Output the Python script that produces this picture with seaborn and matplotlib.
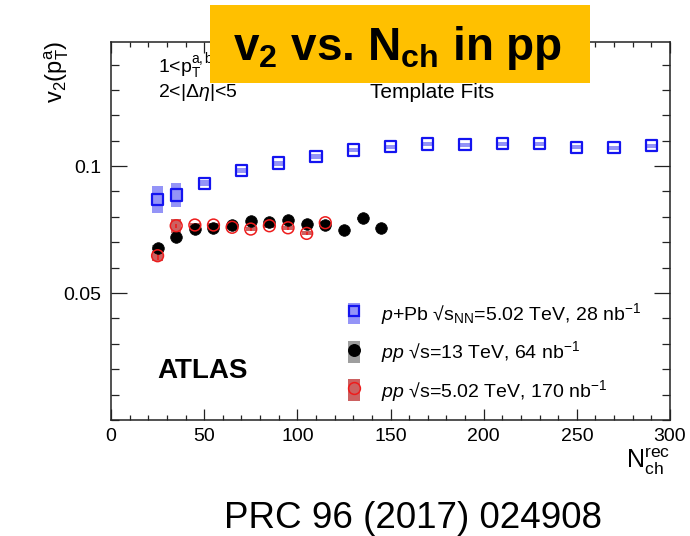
import numpy as np
import pandas as pd
import matplotlib
matplotlib.use("Agg")
import matplotlib.pyplot as plt
from matplotlib.patches import Rectangle, Patch
from matplotlib.lines import Line2D
from matplotlib.ticker import MultipleLocator, FixedLocator
import seaborn as sns

# ---------------- data ----------------
n_ppb = [25, 35, 50, 70, 90, 110, 130, 150, 170, 190, 210, 230, 250, 270, 290]
v2_ppb = [0.0869, 0.0886, 0.0932, 0.0983, 0.1012, 0.1038, 0.1063, 0.1076,
          0.1087, 0.1084, 0.1088, 0.1088, 0.1074, 0.1072, 0.1080]
sys_ppb = [0.0052, 0.0047, 0.0012, 0.0010, 0.0010, 0.0009, 0.0009, 0.0009,
           0.0008, 0.0008, 0.0008, 0.0008, 0.0008, 0.0008, 0.0008]

n_pp13 = [25, 35, 45, 55, 65, 75, 85, 95, 105, 115, 125, 135, 145]
v2_pp13 = [0.0678, 0.0722, 0.0752, 0.0755, 0.0768, 0.0783, 0.0778, 0.0787,
           0.0772, 0.0768, 0.0748, 0.0794, 0.0755]
stat_pp13 = [0.0012, 0.0008, 0.0006, 0.0005, 0.0005, 0.0005, 0.0005, 0.0005,
             0.0006, 0.0006, 0.0007, 0.0008, 0.0009]
sys_pp13 = [0.0010, 0.0008, 0.0006, 0.0006, 0.0006, 0.0006, 0.0006, 0.0006,
            0.0006, 0.0006, 0.0006, 0.0006, 0.0006]

n_pp5 = [25, 35, 45, 55, 65, 75, 85, 95, 105, 115]
v2_pp5 = [0.0647, 0.0765, 0.0768, 0.0768, 0.0759, 0.0752, 0.0765, 0.0757,
          0.0735, 0.0777]
stat_pp5 = [0.0018, 0.0008, 0.0006, 0.0006, 0.0006, 0.0006, 0.0006, 0.0007,
            0.0007, 0.0008]
sys_pp5 = [0.0020, 0.0028, 0.0008, 0.0008, 0.0008, 0.0008, 0.0008, 0.0008,
           0.0008, 0.0008]

labels = ["$p$+Pb \u221As$_{\\mathrm{NN}}$=5.02 TeV, 28 nb$^{-1}$",
          "$pp$ \u221As=13 TeV, 64 nb$^{-1}$",
          "$pp$ \u221As=5.02 TeV, 170 nb$^{-1}$"]
x_ticks = [0, 50, 100, 150, 200, 250, 300]
y_ticks = [0.05, 0.1]
y_tick_labels = ["0.05", "0.1"]

# ---------------- style ----------------
sns.set_theme(style="ticks")
plt.rcParams["font.family"] = ["Liberation Sans", "DejaVu Sans"]
plt.rcParams["text.color"] = "black"
plt.rcParams["axes.labelcolor"] = "black"
plt.rcParams["xtick.color"] = "black"
plt.rcParams["ytick.color"] = "black"
plt.rcParams["mathtext.fontset"] = "custom"
plt.rcParams["mathtext.rm"] = "Liberation Sans"
plt.rcParams["mathtext.it"] = "Liberation Sans:italic"
plt.rcParams["mathtext.bf"] = "Liberation Sans:bold"
plt.rcParams["mathtext.sf"] = "Liberation Sans"

W, H = 690, 536
fig = plt.figure(figsize=(W / 100, H / 100), dpi=100)
ax = fig.add_axes([111 / W, 1 - 420 / H, (670 - 111) / W, (420 - 41.7) / H])

c_blue = "#1414f0"
c_blue_sys = (0.58, 0.58, 0.97)
c_black_sys = (0.62, 0.62, 0.62)
c_red = "#ee1c1c"
c_red_sys = (0.80, 0.38, 0.38)

bw = 5.5
# systematic boxes
ax.bar(n_ppb, 2 * np.array(sys_ppb), bottom=np.array(v2_ppb) - np.array(sys_ppb),
       width=bw, color=c_blue_sys, linewidth=0, zorder=1)
ax.bar(n_pp13, 2 * np.array(sys_pp13), bottom=np.array(v2_pp13) - np.array(sys_pp13),
       width=bw, color=c_black_sys, linewidth=0, zorder=1)
ax.bar(n_pp5, 2 * np.array(sys_pp5), bottom=np.array(v2_pp5) - np.array(sys_pp5),
       width=bw, color=c_red_sys, linewidth=0, zorder=1)

# statistical error bars
ax.errorbar(n_pp13, v2_pp13, yerr=stat_pp13, fmt="none", ecolor="black",
            elinewidth=1.2, capsize=0, zorder=3)
ax.errorbar(n_pp5, v2_pp5, yerr=stat_pp5, fmt="none", ecolor=c_red,
            elinewidth=1.2, capsize=0, zorder=3)

df_ppb = pd.DataFrame({"N": n_ppb, "v2": v2_ppb})
df_13 = pd.DataFrame({"N": n_pp13, "v2": v2_pp13})
df_5 = pd.DataFrame({"N": n_pp5, "v2": v2_pp5})

sns.scatterplot(data=df_ppb, x="N", y="v2", ax=ax, marker="s", s=66,
                facecolors="none", edgecolors=c_blue, linewidth=1.6, zorder=4, legend=False)
sns.scatterplot(data=df_13, x="N", y="v2", ax=ax, marker="o", s=70,
                color="black", edgecolor="black", linewidth=0.5, zorder=4, legend=False)
sns.scatterplot(data=df_5, x="N", y="v2", ax=ax, marker="o", s=72,
                facecolors="none", edgecolors=c_red, linewidth=1.1, zorder=5, legend=False)

ax.set_xlim(0, 300)
ax.set_ylim(0, 0.149)
ax.set_xlabel("")
ax.set_ylabel("")

ax.xaxis.set_major_locator(FixedLocator(x_ticks))
ax.xaxis.set_minor_locator(MultipleLocator(10))
ax.yaxis.set_major_locator(FixedLocator(y_ticks))
ax.set_yticklabels(y_tick_labels)
ax.yaxis.set_minor_locator(MultipleLocator(0.01))

spine_c = "#222222"
for s in ax.spines.values():
    s.set_visible(True)
    s.set_color(spine_c)
    s.set_linewidth(1.1)
ax.tick_params(axis="both", which="both", direction="in", top=True, right=True,
               colors=spine_c, labelcolor="black", width=0.9)
ax.tick_params(axis="x", which="major", length=8, labelsize=14, pad=6)
ax.tick_params(axis="x", which="minor", length=3.8)
ax.tick_params(axis="y", which="major", length=11.5, labelsize=14, pad=7)
ax.tick_params(axis="y", which="minor", length=5.5)

# legend
handles = [
    (Patch(facecolor=c_blue_sys, edgecolor="none"),
     Line2D([], [], marker="s", markersize=7.8, markerfacecolor="none",
            markeredgecolor=c_blue, markeredgewidth=1.6, linestyle="none")),
    (Patch(facecolor=c_black_sys, edgecolor="none"),
     Line2D([], [], marker="o", markersize=8.3, markerfacecolor="black",
            markeredgecolor="black", linestyle="none")),
    (Patch(facecolor=c_red_sys, edgecolor="none"),
     Line2D([], [], marker="o", markersize=8.5, markerfacecolor="none",
            markeredgecolor=c_red, markeredgewidth=1.1, linestyle="none")),
]
ax.legend(handles, labels, loc="upper left",
          bbox_to_anchor=((348 - 111) / 559, (420 - 301) / 378.3),
          frameon=False, fontsize=14, handlelength=0.62, handleheight=1.34,
          handletextpad=1.1, labelspacing=0.64, borderpad=0, borderaxespad=0,
          numpoints=1)

# annotations
ax.text(47 / 559, (420 - 73) / 378.3, r"1<p$_\mathrm{T}^\mathrm{a,b}$<5 GeV",
        transform=ax.transAxes, fontsize=14, va="baseline", ha="left")
ax.text(47 / 559, (420 - 97) / 378.3, r"2<|$\Delta\eta$|<5",
        transform=ax.transAxes, fontsize=14, va="baseline", ha="left")
ax.text((432 - 111) / 559, (420 - 98) / 378.3, "Template Fits",
        transform=ax.transAxes, fontsize=15, va="baseline", ha="center")
ax.text((157 - 111) / 559, (420 - 378) / 378.3, "ATLAS",
        transform=ax.transAxes, fontsize=20, fontweight="bold",
        va="baseline", ha="left")

# axis titles
fig.text(57 / W, 1 - 41 / H, r"v$_2$(p$_\mathrm{T}^\mathrm{a}$)", rotation=90,
         fontsize=17, va="top", ha="center")
fig.text(670 / W, 1 - 446 / H, r"N$_\mathrm{ch}^\mathrm{rec}$",
         fontsize=18, va="top", ha="right")

# orange title box
fig.patches.append(Rectangle((210 / W, 1 - 83 / H), 380 / W, 78 / H,
                             transform=fig.transFigure, facecolor="#FFC000",
                             edgecolor="none", zorder=5))
fig.text(398 / W, 1 - 60 / H, r"v$_\mathbf{2}$ vs. N$_\mathbf{ch}$ in pp",
         fontsize=33, fontweight="bold", va="baseline", ha="center", zorder=6)

fig.text(413 / W, 1 - 528 / H, "PRC 96 (2017) 024908", fontsize=26.5,
         va="baseline", ha="center")

fig.savefig("out.png", dpi=100)
